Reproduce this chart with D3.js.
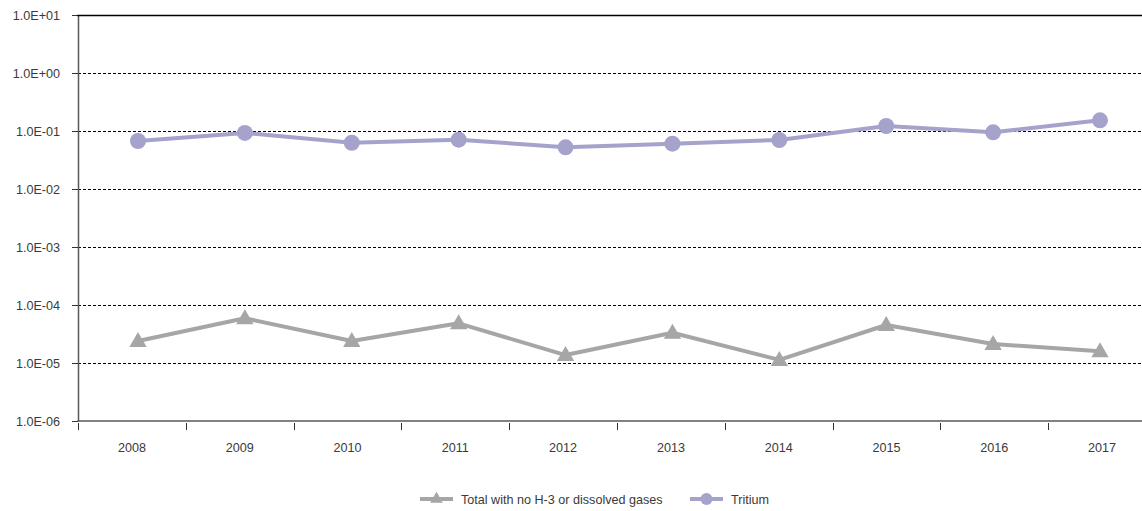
<!DOCTYPE html>
<html>
<head>
<meta charset="utf-8">
<script src="https://cdn.jsdelivr.net/npm/d3@7"></script>
<style>
  html, body { margin: 0; padding: 0; background: #fff; }
  svg { display: block; font-family: "Liberation Sans", Arial, sans-serif; }
</style>
</head>
<body>
<svg id="chart" width="1142" height="511"></svg>
<script>
const years = ["2008","2009","2010","2011","2012","2013","2014","2015","2016","2017"];
const totalNoH3 = [2.39e-5, 5.9e-5, 2.39e-5, 4.83e-5, 1.37e-5, 3.33e-5, 1.13e-5, 4.52e-5, 2.13e-5, 1.6e-5];
const tritium = [0.0673, 0.0925, 0.0628, 0.0708, 0.0523, 0.0605, 0.0700, 0.122, 0.095, 0.153];
const yTicks = [1e1, 1e0, 1e-1, 1e-2, 1e-3, 1e-4, 1e-5, 1e-6];
const yTickLabels = ["1.0E+01","1.0E+00","1.0E-01","1.0E-02","1.0E-03","1.0E-04","1.0E-05","1.0E-06"];
const seriesNames = ["Total with no H-3 or dissolved gases", "Tritium"];

const svg = d3.select("#chart");
const mLeft = 78, mRight = 1142, mTop = 15, mBottom = 421;
const fs = "12.6px";

const y = d3.scaleLog().domain([1e-6, 1e1]).range([mBottom, mTop]);
const xBand = d3.scaleBand().domain(years).range([mLeft, mLeft + 10 * 107.8]);
const xPt = d3.scalePoint().domain(years).range([138, 1100]);

const grayC = "#a6a6a6", purpC = "#a5a3cc", textC = "#3a3a3a";

// gridlines
svg.append("g").selectAll("line")
  .data(yTicks.filter(v => v < 1e1 && v > 1e-6))
  .join("line")
  .attr("x1", mLeft).attr("x2", mRight)
  .attr("y1", d => Math.round(y(d)) + 0.5).attr("y2", d => Math.round(y(d)) + 0.5)
  .attr("stroke", "#000").attr("stroke-width", 1)
  .attr("stroke-dasharray", "3,2");

// Y axis
const yAxis = d3.axisLeft(y).tickValues(yTicks)
  .tickFormat((d, i) => yTickLabels[i]).tickSize(6).tickSizeOuter(0).tickPadding(12);
const gy = svg.append("g").attr("transform", `translate(${mLeft},0)`).call(yAxis);
gy.select(".domain").attr("stroke", "#595959").attr("stroke-width", 1.5);
gy.selectAll(".tick line").attr("stroke", "#333");
gy.selectAll(".tick text").attr("fill", textC).style("font-size", fs)
  .style("font-family", '"Liberation Sans", Arial, sans-serif');

// top solid line
svg.append("line")
  .attr("x1", mLeft - 0.75).attr("x2", mRight)
  .attr("y1", y(1e1) + 0.5).attr("y2", y(1e1) + 0.5)
  .attr("stroke", "#000").attr("stroke-width", 1.3);

// X axis (band boundaries ticks)
const gx = svg.append("g").attr("transform", `translate(0,${mBottom})`);
gx.append("line").attr("x1", mLeft - 0.75).attr("x2", mRight).attr("y1", 0).attr("y2", 0)
  .attr("stroke", "#595959").attr("stroke-width", 1.5);
gx.selectAll("line.tk").data(years).join("line").attr("class", "tk")
  .attr("x1", d => Math.round(xBand(d)) + 0.5).attr("x2", d => Math.round(xBand(d)) + 0.5)
  .attr("y1", 2).attr("y2", 9)
  .attr("stroke", "#333").attr("stroke-width", 1);
gx.selectAll("text").data(years).join("text")
  .attr("x", d => xBand(d) + xBand.bandwidth() / 2)
  .attr("y", 31)
  .attr("text-anchor", "middle")
  .attr("fill", textC).style("font-size", fs)
  .text(d => d);

// lines
const lineGen = vals => d3.line().x((d, i) => xPt(years[i])).y(d => y(d))(vals);

svg.append("path").attr("d", lineGen(totalNoH3))
  .attr("fill", "none").attr("stroke", grayC).attr("stroke-width", 4)
  .attr("stroke-linejoin", "round");
const tri = d3.symbol().type(d3.symbolTriangle).size(130);
svg.append("g").selectAll("path").data(totalNoH3).join("path")
  .attr("d", tri)
  .attr("transform", (d, i) => `translate(${xPt(years[i])},${y(d) + 1})`)
  .attr("fill", grayC);

svg.append("path").attr("d", lineGen(tritium))
  .attr("fill", "none").attr("stroke", purpC).attr("stroke-width", 4)
  .attr("stroke-linejoin", "round");
svg.append("g").selectAll("circle").data(tritium).join("circle")
  .attr("cx", (d, i) => xPt(years[i])).attr("cy", d => y(d))
  .attr("r", 8).attr("fill", purpC);

// legend
const ly = 499;
const lg = svg.append("g");
const legendItems = [
  { name: seriesNames[0], color: grayC, x: 420, shape: "tri" },
  { name: seriesNames[1], color: purpC, x: 690, shape: "circ" }
];
legendItems.forEach(it => {
  lg.append("line").attr("x1", it.x).attr("x2", it.x + 33).attr("y1", ly).attr("y2", ly)
    .attr("stroke", it.color).attr("stroke-width", 4);
  if (it.shape === "tri") {
    lg.append("path").attr("d", d3.symbol().type(d3.symbolTriangle).size(70)())
      .attr("transform", `translate(${it.x + 16.5},${ly})`).attr("fill", it.color);
  } else {
    lg.append("circle").attr("cx", it.x + 16.5).attr("cy", ly).attr("r", 6).attr("fill", it.color);
  }
  lg.append("text").attr("x", it.x + 41).attr("y", ly + 4.5)
    .attr("fill", textC).style("font-size", fs).text(it.name);
});
</script>
</body>
</html>
